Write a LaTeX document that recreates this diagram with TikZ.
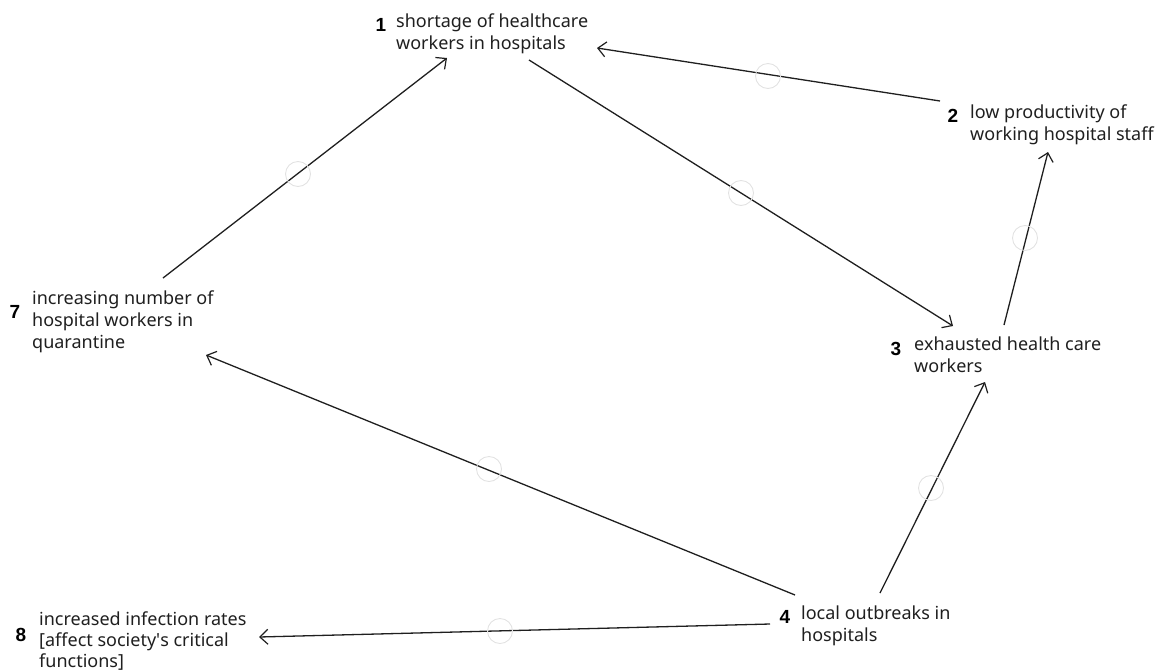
\documentclass[tikz,border=0pt]{standalone}
\usepackage{fontspec}
\setmainfont{Noto Sans}
\newfontfamily\numfont{Liberation Sans}
\usetikzlibrary{arrows.meta}
\definecolor{ink}{HTML}{1F1F1F}
\definecolor{ring}{HTML}{E2E2E2}
\tikzset{
  lbl/.style={anchor=base west, align=left, inner sep=0pt, text=ink,
    font=\fontsize{18}{22}\selectfont},
  num/.style={anchor=base, inner sep=0pt, text=black,
    font=\numfont\fontsize{19}{20}\selectfont\bfseries},
  link/.style={draw=ink, line width=1.3pt, -{Straight Barb[length=8pt,width=15pt,line width=1.2pt]}},
  midring/.style={draw=ring, line width=0.9pt, circle, minimum size=25pt, inner sep=0pt}
}
\begin{document}
\begin{tikzpicture}[x=1pt,y=-1pt]
\useasboundingbox (0,0) rectangle (1166,670);
% labels (anchored at the baseline of their last line)
\node[lbl] (t1) at (396,49) {shortage of healthcare\\workers in hospitals};
\node[num] (n1) at (381,31) {1};
\node[lbl] (t2) at (970,140) {low productivity of\\working hospital staff};
\node[num] (n2) at (953,122) {2};
\node[lbl] (t3) at (914,372) {exhausted health care\\workers};
\node[num] (n3) at (896,355) {3};
\node[lbl] (t4) at (801,641) {local outbreaks in\\hospitals};
\node[num] (n4) at (785,623) {4};
\node[lbl] (t7) at (32,348) {increasing number of\\hospital workers in\\quarantine};
\node[num] (n7) at (15,318) {7};
\node[lbl, font=\fontsize{18}{21}\selectfont] (t8) at (39,667) {increased infection rates\\{[}affect society\textquotesingle s critical\\functions{]}};
\node[num] (n8) at (21,641) {8};
% connector end points
\coordinate (a21) at (940,101); \coordinate (b21) at (597,48);
\coordinate (a13) at (529,60);  \coordinate (b13) at (953,326);
\coordinate (a32) at (1004,325); \coordinate (b32) at (1048,152);
\coordinate (a71) at (163,278); \coordinate (b71) at (447,58);
\coordinate (a47) at (795,595); \coordinate (b47) at (206,355);
\coordinate (a43) at (880,593); \coordinate (b43) at (985,382);
\coordinate (a48) at (770,624); \coordinate (b48) at (259,637);
% connectors
\draw[link] (a21) -- (b21);
\draw[link] (a13) -- (b13);
\draw[link] (a32) -- (b32);
\draw[link] (a71) -- (b71);
\draw[link] (a47) -- (b47);
\draw[link] (a43) -- (b43);
\draw[link] (a48) -- (b48);
% midpoint rings
\node[midring] (r21) at (768,76) {};
\node[midring] (r13) at (741,193) {};
\node[midring] (r32) at (1025,238) {};
\node[midring] (r71) at (298,174) {};
\node[midring] (r47) at (489,469) {};
\node[midring] (r43) at (931,488) {};
\node[midring] (r48) at (500,631) {};
\end{tikzpicture}
\end{document}
